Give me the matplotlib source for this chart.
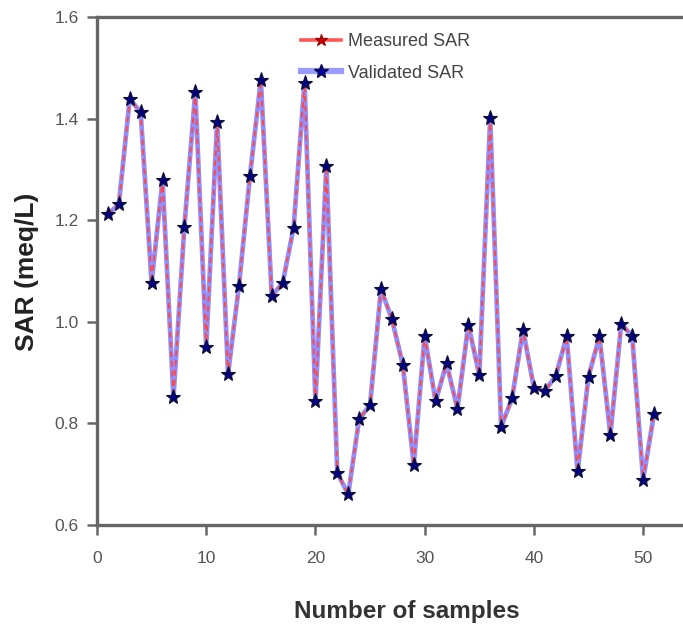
import matplotlib
matplotlib.use("Agg")
import matplotlib.pyplot as plt
from matplotlib.lines import Line2D

samples = list(range(1, 52))
measured_sar = [1.212, 1.231, 1.439, 1.412, 1.077, 1.279, 0.851, 1.187, 1.452, 0.951,
                1.393, 0.897, 1.071, 1.286, 1.476, 1.051, 1.076, 1.185, 1.471, 0.843,
                1.307, 0.702, 0.660, 0.808, 0.836, 1.064, 1.005, 0.915, 0.718, 0.972,
                0.843, 0.918, 0.828, 0.994, 0.895, 1.401, 0.793, 0.849, 0.984, 0.870,
                0.864, 0.893, 0.971, 0.705, 0.892, 0.971, 0.777, 0.996, 0.971, 0.689,
                0.819]
validated_sar = list(measured_sar)

xticks = [0, 10, 20, 30, 40, 50]
yticks = [0.6, 0.8, 1.0, 1.2, 1.4, 1.6]

FAM = ["Liberation Sans", "DejaVu Sans"]

fig = plt.figure(figsize=(6.83, 6.30), dpi=100)
ax = fig.add_axes([0.142, 0.167, 0.862, 0.806])

ax.plot(samples, validated_sar, color="#7b7bff", lw=3.4, alpha=0.85, zorder=2)
ax.plot(samples, measured_sar, color="#ff4848", lw=1.4, ls=(0, (3, 2)), zorder=3)
ax.plot(samples, validated_sar, ls="none", marker="*", ms=11, mfc="#000080",
        mec="#101030", mew=0.8, zorder=4)

ax.set_xlim(0, 53.9)
ax.set_ylim(0.6, 1.6)
ax.set_xticks(xticks)
ax.set_xticklabels([str(t) for t in xticks])
ax.set_yticks(yticks)
ax.set_yticklabels([f"{t:.1f}" for t in yticks])

for s in ax.spines.values():
    s.set_color("#666666")
    s.set_linewidth(2.4)
ax.spines["right"].set_visible(False)

ax.tick_params(axis="both", colors="#666666", width=1.8, length=7, direction="out",
               labelcolor="#555555", labelsize=12.5)
for lab in ax.get_xticklabels() + ax.get_yticklabels():
    lab.set_family(FAM)
ax.tick_params(axis="x", pad=12)
ax.tick_params(axis="y", pad=6)

ax.set_xlabel("Number of samples", fontsize=17.5, fontweight="bold", color="#333333",
              family=FAM)
ax.xaxis.set_label_coords(0.527, -0.171)
ax.xaxis.label.set_va("center")
ax.set_ylabel("SAR (meq/L)", fontsize=19, fontweight="bold", color="#222222",
              family=FAM)
ax.yaxis.set_label_coords(-0.119, 0.498)
ax.yaxis.label.set_va("center")

h_meas = Line2D([], [], color="#ff5555", lw=2.6, marker="*", ms=9,
                mfc="#dd0000", mec="#990000")
h_val = Line2D([], [], color="#9a9aff", lw=4.5, marker="*", ms=10,
               mfc="#0000aa", mec="#101040")
leg = ax.legend([h_meas, h_val], ["Measured SAR", "Validated SAR"], loc="upper left",
                bbox_to_anchor=(0.3465, 0.968), borderaxespad=0, borderpad=0,
                frameon=False, handlelength=2.2, handletextpad=0.4, labelspacing=0.8,
                prop={"family": FAM, "size": 13})
for t in leg.get_texts():
    t.set_color("#444444")

fig.savefig("out.png", dpi=100)
